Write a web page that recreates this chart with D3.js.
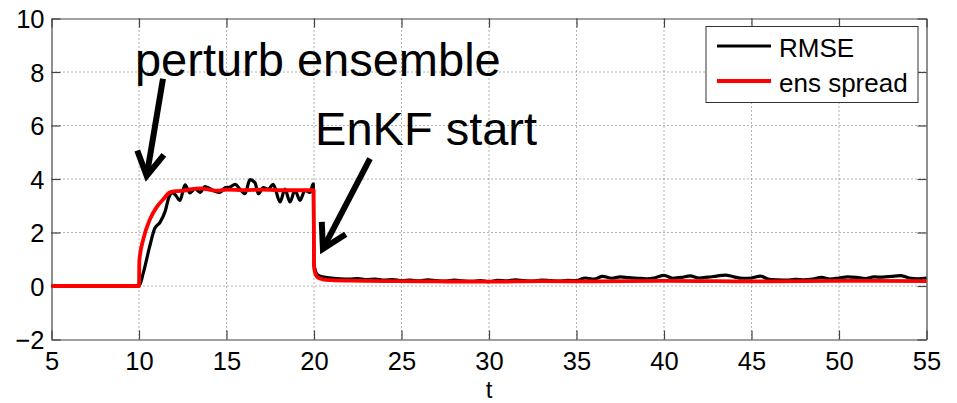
<!DOCTYPE html>
<html>
<head>
<meta charset="utf-8">
<script src="https://cdn.jsdelivr.net/npm/d3@7"></script>
<style>
  body { margin: 0; background: #fff; }
  text { font-family: "Liberation Sans", Arial, sans-serif; fill: #000; }
</style>
</head>
<body>
<div id="chart"></div>
<script>
// time axis and values
var xTicks = [5, 10, 15, 20, 25, 30, 35, 40, 45, 50, 55];
var yTicks = [-2, 0, 2, 4, 6, 8, 10];

var rmseT = [5, 10, 10.25, 10.6, 10.9, 11.2, 11.5, 11.7, 11.9, 12.06, 12.34, 12.63, 12.91, 13.2, 13.49, 13.77, 14.06, 14.34, 14.63, 14.91, 15.2, 15.49, 15.77, 16.06, 16.34, 16.63, 16.82, 17.1, 17.39, 17.67, 18.06, 18.34, 18.63, 18.91, 19.2, 19.49, 19.77, 19.96,
  20.0, 20.2, 20.5, 21, 21.5, 22, 22.5, 23, 23.5, 24, 24.5, 25, 25.5, 26, 26.5, 27, 27.5, 28, 28.5, 29, 29.5, 30, 30.5, 31, 31.5, 32, 32.5, 33, 33.5, 34, 34.5, 35, 35.5, 36, 36.5, 37, 37.5, 38, 38.5, 39, 39.5, 40, 40.5, 41, 41.5, 42, 42.5, 43, 43.5, 44, 44.5, 45, 45.5, 46, 46.5, 47, 47.5, 48, 48.5, 49, 49.5, 50, 50.5, 51, 51.5, 52, 52.5, 53, 53.5, 54, 54.5, 55];
var rmse = [0, 0, 0.5, 1.45, 2.15, 2.38, 2.8, 3.3, 3.48, 3.42, 3.2, 3.78, 3.48, 3.64, 3.5, 3.72, 3.64, 3.54, 3.5, 3.67, 3.7, 3.8, 3.62, 3.45, 3.98, 3.86, 3.45, 3.68, 3.62, 3.8, 3.14, 3.62, 3.14, 3.58, 3.2, 3.58, 3.5, 3.82,
  0.8, 0.42, 0.34, 0.3, 0.27, 0.26, 0.28, 0.24, 0.26, 0.22, 0.24, 0.2, 0.22, 0.19, 0.23, 0.2, 0.18, 0.22, 0.19, 0.17, 0.2, 0.16, 0.21, 0.19, 0.23, 0.2, 0.18, 0.22, 0.2, 0.18, 0.21, 0.2, 0.3, 0.26, 0.36, 0.29, 0.34, 0.31, 0.29, 0.27, 0.31, 0.4, 0.29, 0.32, 0.38, 0.3, 0.33, 0.37, 0.41, 0.34, 0.29, 0.3, 0.37, 0.25, 0.23, 0.22, 0.25, 0.23, 0.26, 0.32, 0.26, 0.3, 0.34, 0.32, 0.28, 0.34, 0.33, 0.36, 0.39, 0.3, 0.27, 0.3, 0.25];

var spreadT = [5, 10, 10.02, 10.25, 10.63, 11.0, 11.4, 11.77, 12.2, 12.6, 13, 13.5, 14, 14.5, 15, 16, 17, 18, 19, 19.98, 20.0, 20.1, 20.25, 20.5, 21, 22, 23, 25, 27, 30, 33, 36, 40, 43, 46, 50, 55];
var spread = [0, 0, 0.95, 1.76, 2.5, 2.94, 3.25, 3.5, 3.55, 3.57, 3.62, 3.65, 3.6, 3.56, 3.6, 3.58, 3.6, 3.58, 3.58, 3.58, 0.72, 0.42, 0.3, 0.25, 0.22, 0.2, 0.19, 0.18, 0.17, 0.16, 0.18, 0.17, 0.19, 0.18, 0.17, 0.19, 0.18];

var seriesNames = ["RMSE", "ens spread"];
var seriesColors = ["#000000", "#ff0000"];

var W = 957, H = 403;
var x = d3.scaleLinear().domain([5, 55]).range([51.5, 926.5]);
var y = d3.scaleLinear().domain([-2, 10]).range([339.5, 18.5]);

var svg = d3.select("#chart").append("svg")
  .attr("width", W)
  .attr("height", H);

// dotted grid
var grid = svg.append("g");
grid.selectAll(".gx").data(xTicks.slice(1, -1)).enter().append("line")
  .attr("x1", d => x(d)).attr("x2", d => x(d))
  .attr("y1", y(10)).attr("y2", y(-2))
  .attr("stroke", "#666").attr("stroke-width", 1).attr("stroke-dasharray", "1,3");
grid.selectAll(".gy").data(yTicks.slice(1, -1)).enter().append("line")
  .attr("y1", d => y(d)).attr("y2", d => y(d))
  .attr("x1", x(5)).attr("x2", x(55))
  .attr("stroke", "#666").attr("stroke-width", 1).attr("stroke-dasharray", "1,3");

// axes (matlab style box with inward ticks)
var fmt = d => d < 0 ? "\u2212" + Math.abs(d) : String(d);
var axB = svg.append("g").attr("transform", "translate(0," + y(-2) + ")")
  .call(d3.axisBottom(x).tickValues(xTicks).tickSizeInner(-9).tickSizeOuter(0).tickPadding(12).tickFormat(fmt));
var axL = svg.append("g").attr("transform", "translate(" + x(5) + ",0)")
  .call(d3.axisLeft(y).tickValues(yTicks).tickSizeInner(-9).tickSizeOuter(0).tickPadding(7).tickFormat(fmt));
var axT = svg.append("g").attr("transform", "translate(0," + y(10) + ")")
  .call(d3.axisTop(x).tickValues(xTicks).tickSizeInner(-9).tickSizeOuter(0).tickFormat(""));
var axR = svg.append("g").attr("transform", "translate(" + x(55) + ",0)")
  .call(d3.axisRight(y).tickValues(yTicks).tickSizeInner(-9).tickSizeOuter(0).tickFormat(""));

[axB, axL, axT, axR].forEach(function (a) {
  a.select(".domain").attr("stroke", "#444").attr("stroke-width", 1.2);
  a.selectAll(".tick line").attr("stroke", "#444").attr("stroke-width", 1.2);
  a.selectAll("text").style("font-family", "Liberation Sans, Arial, sans-serif").style("font-size", "25.5px").attr("fill", "#000");
});
axB.selectAll(".tick text").attr("dy", "0.71em");
axL.selectAll(".tick text").attr("dy", "0.36em");

// x label
svg.append("text")
  .attr("x", (x(5) + x(55)) / 2).attr("y", 398)
  .attr("text-anchor", "middle").style("font-size", "24px").text("t");

// lines
var line = d3.line().x(d => x(d[0])).y(d => y(d[1])).curve(d3.curveMonotoneX);

svg.append("path")
  .datum(d3.zip(rmseT, rmse))
  .attr("d", line)
  .attr("fill", "none").attr("stroke", seriesColors[0]).attr("stroke-width", 3.2)
  .attr("stroke-linejoin", "round");

svg.append("path")
  .datum(d3.zip(spreadT, spread))
  .attr("d", line)
  .attr("fill", "none").attr("stroke", seriesColors[1]).attr("stroke-width", 3.8)
  .attr("stroke-linejoin", "round");

// annotations
svg.append("text").attr("x", x(9.77)).attr("y", y(7.86))
  .style("font-size", "47px").text("perturb ensemble");
svg.append("text").attr("x", x(20.06)).attr("y", y(5.28))
  .style("font-size", "47px").text("EnKF start");

function arrow(t0, v0, t1, v1) {
  var x0 = x(t0), y0 = y(v0), x1 = x(t1), y1 = y(v1);
  var a = Math.atan2(y1 - y0, x1 - x0);
  var len = 27, spread = Math.PI / 6;
  svg.append("line")
    .attr("x1", x0).attr("y1", y0).attr("x2", x1).attr("y2", y1)
    .attr("stroke", "#000").attr("stroke-width", 6);
  var pts = [
    [x1 - len * Math.cos(a - spread), y1 - len * Math.sin(a - spread)],
    [x1, y1],
    [x1 - len * Math.cos(a + spread), y1 - len * Math.sin(a + spread)]
  ];
  svg.append("path").attr("d", d3.line()(pts))
    .attr("fill", "none").attr("stroke", "#000").attr("stroke-width", 6)
    .attr("stroke-linejoin", "miter");
}
arrow(11.37, 7.75, 10.44, 4.12);
arrow(23.2, 4.76, 20.51, 1.39);

// legend
var lg = svg.append("g");
lg.append("rect").attr("x", 706).attr("y", 26.5).attr("width", 212).attr("height", 76)
  .attr("fill", "#fff").attr("stroke", "#333").attr("stroke-width", 1);
seriesNames.forEach(function (n, i) {
  var yy = 46 + i * 35;
  lg.append("line").attr("x1", 717).attr("x2", 771).attr("y1", yy).attr("y2", yy)
    .attr("stroke", seriesColors[i]).attr("stroke-width", i ? 3.8 : 3.2);
  lg.append("text").attr("x", 779).attr("y", yy + 11).style("font-size", "26px").text(n);
});
</script>
</body>
</html>
